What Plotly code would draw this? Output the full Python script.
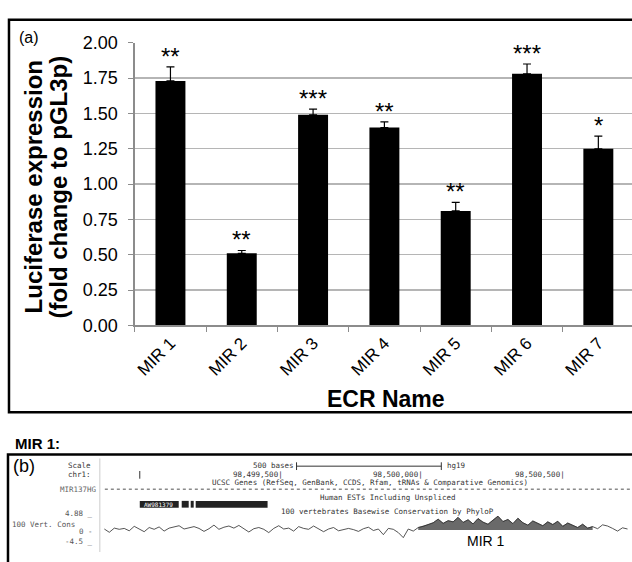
import plotly.graph_objects as go

W, H = 632, 562

def X(px):
    return px / W

def Y(py):
    return 1 - py / H

# ---------------- data: panel (a) ----------------
categories = ["MIR 1", "MIR 2", "MIR 3", "MIR 4", "MIR 5", "MIR 6", "MIR 7"]
fold_change = [1.73, 0.51, 1.49, 1.40, 0.81, 1.78, 1.25]
error_plus = [0.10, 0.02, 0.04, 0.04, 0.06, 0.07, 0.09]
significance = ["**", "**", "***", "**", "**", "***", "*"]
y_ticks = [0.0, 0.25, 0.5, 0.75, 1.0, 1.25, 1.5, 1.75, 2.0]

# ---------------- data: panel (b) PhyloP track (read by eye) ----------------
phylop = [
    0.3, -0.8, 0.6, 0.2, 0.5, -0.3, 1.2, 0.4, -0.6, 0.8,
    0.2, 1.0, -0.4, 0.6, 0.9, 1.4, 0.3, 0.7, 1.1, 0.5,
    -0.5, 0.4, 1.6, 0.2, 0.9, 1.3, 0.6, 1.5, 0.3, -0.7,
    0.4, 0.8, 0.2, -0.9, 0.5, 1.4, 0.3, 0.6, -0.4, 1.1,
    0.5, 0.2, 1.3, 0.4, -0.6, 0.3, 0.8, -0.3, 0.2, 0.5,
    0.1, -0.5, 0.4, 0.9, -0.2, 0.3, -1.6, 0.5, 0.2, -0.9,
    -2.6, 0.3, -0.4, 0.8,
    1.2, 1.8, 2.4, 3.6, 2.2, 3.1, 2.7, 4.2, 2.5, 3.4,
    2.0, 3.8, 2.6, 1.9, 3.3, 4.6, 2.8, 3.5, 2.1, 3.9,
    2.4, 1.6, 3.0, 2.2, 1.4, 2.7, 1.8, 2.9, 1.2, 2.3,
    1.5, 0.8, 1.9, 0.6,
    1.1, 0.4, 1.7, 1.3, 0.5, -0.4, 0.7, 0.3,
]
phylop_pos = list(range(len(phylop)))
mir1_start, mir1_end = 63, 99   # conserved MIR 1 stretch of the track

ARIAL = "Arial, Liberation Sans, sans-serif"
MONO = "DejaVu Sans Mono, Liberation Mono, monospace"

fig = go.Figure()

fig.add_trace(go.Bar(
    x=categories, y=fold_change, width=0.42,
    marker=dict(color="black", line=dict(width=0)),
    error_y=dict(type="data", symmetric=False, array=error_plus,
                 arrayminus=[0] * len(error_plus),
                 color="black", thickness=1.2, width=4),
    xaxis="x", yaxis="y", showlegend=False,
))

fig.add_trace(go.Scatter(
    x=phylop_pos[mir1_start:mir1_end], y=phylop[mir1_start:mir1_end], mode="lines",
    line=dict(color="#555555", width=0.6),
    fill="tozeroy", fillcolor="#6a6a6a",
    xaxis="x2", yaxis="y2", showlegend=False,
))
fig.add_trace(go.Scatter(
    x=phylop_pos, y=phylop, mode="lines",
    line=dict(color="#2a2a2a", width=0.8),
    xaxis="x2", yaxis="y2", showlegend=False,
))

plot_left, plot_right_full = 134, 634
x_hi = -0.5 + 7 * (W - plot_left) / (plot_right_full - plot_left)

annotations = []
for c, v, e, s in zip(categories, fold_change, error_plus, significance):
    annotations.append(dict(
        x=c, y=v + e, xref="x", yref="y", text=s, showarrow=False,
        yanchor="bottom", yshift=-5, font=dict(family=ARIAL, size=24, color="black"),
    ))

def txt(x, y, t, size=7.5, anchor="left", family=MONO, color="#333333", bold=False, **kw):
    if bold:
        t = "<b>" + t + "</b>"
    d = dict(x=X(x), y=Y(y), xref="paper", yref="paper", text=t, showarrow=False,
             xanchor=anchor, yanchor="middle", borderpad=0,
             font=dict(family=family, size=size, color=color))
    d.update(kw)
    annotations.append(d)

# panel (a) texts
txt(17, 28, "(a)", size=16, family=ARIAL, color="black")
txt(33, 183, "Luciferase expression", size=24,
    family=ARIAL, color="black", bold=True, anchor="center", textangle=-90)
txt(58, 183, "(fold change to pGL3p)", size=24,
    family=ARIAL, color="black", bold=True, anchor="center", textangle=-90)
txt(386, 403, "ECR Name", size=23, family=ARIAL, color="black", bold=True, anchor="center")
txt(13, 449, "MIR 1:", size=15, family=ARIAL, color="black", bold=True)

# panel (b) texts
txt(11, 473, "(b)", size=18, family=ARIAL, color="black")
txt(91, 472, "Scale", anchor="right")
txt(91, 482, "chr1:", anchor="right")
txt(97, 497, "MIR137HG", anchor="right", color="#666666")
txt(93, 522, "4.88 _", anchor="right", color="#555555")
txt(10, 533, "100 Vert. Cons", color="#555555")
txt(93, 541, "0 -", anchor="right", color="#555555")
txt(93, 551, "-4.5 _", anchor="right", color="#555555")
txt(294, 472, "500 bases", anchor="right")
txt(446, 472, "hg19")
txt(283, 482, "98,499,500|", anchor="right")
txt(424, 482, "98,500,000|", anchor="right")
txt(566, 482, "98,500,500|", anchor="right")
txt(370, 490, "UCSC Genes (RefSeq, GenBank, CCDS, Rfam, tRNAs &amp; Comparative Genomics)",
    anchor="center")
txt(387, 505, "Human ESTs Including Unspliced", anchor="center")
txt(387, 520, "100 vertebrates Basewise Conservation by PhyloP", anchor="center")
txt(158, 512.5, "AW981379", size=6, anchor="center", color="white")
txt(486, 551, "MIR 1", size=14, family=ARIAL, color="black", anchor="center")

def rect(x0, y0, x1, y1, **kw):
    return dict(type="rect", xref="paper", yref="paper",
                x0=X(x0), x1=X(x1), y0=Y(y0), y1=Y(y1), **kw)

def line(x0, y0, x1, y1, color="#333333", width=1, dash=None):
    d = dict(type="line", xref="paper", yref="paper",
             x0=X(x0), x1=X(x1), y0=Y(y0), y1=Y(y1),
             line=dict(color=color, width=width))
    if dash:
        d["line"]["dash"] = dash
    return d

shapes = [
    rect(8, 10, 650, 417, line=dict(color="black", width=2.5), fillcolor="rgba(0,0,0,0)", layer="above"),
    rect(7, 461, 650, 580, line=dict(color="black", width=2.5), fillcolor="rgba(0,0,0,0)"),
    line(99, 465, 99, 562, color="#cccccc", width=1),
    line(296, 473, 441, 473, color="#333333", width=1),
    line(296, 469, 296, 477, color="#333333", width=1),
    line(441, 469, 441, 477, color="#333333", width=1),
    line(139, 478, 139, 486, color="#333333", width=1),
    line(104, 497, 632, 497, color="#8a8a8a", width=1.5, dash="dot"),
    rect(139, 509, 178, 516, line=dict(width=0), fillcolor="#222222"),
    rect(181, 509, 188, 516, line=dict(width=0), fillcolor="#222222"),
    rect(190, 509, 193, 516, line=dict(width=0), fillcolor="#222222"),
    rect(195, 509, 267, 516, line=dict(width=0), fillcolor="#222222"),
]

fig.update_layout(
    width=W, height=H, autosize=False,
    margin=dict(l=0, r=0, t=0, b=0),
    paper_bgcolor="white", plot_bgcolor="white",
    font=dict(family=ARIAL, color="black"),
    showlegend=False,
    xaxis=dict(
        domain=[X(plot_left), 1], range=[-0.5, x_hi], type="category",
        showline=True, linecolor="#8c8c8c", linewidth=1.3,
        ticks="outside", tickson="boundaries", ticklen=5, tickcolor="#8c8c8c",
        tickangle=-45, tickfont=dict(family=ARIAL, size=17, color="black"),
        showgrid=False, zeroline=False, fixedrange=True,
    ),
    yaxis=dict(
        domain=[Y(327), Y(34)], range=[0, 2.0],
        tickvals=y_ticks, tickformat=".2f",
        showline=True, linecolor="#8c8c8c", linewidth=1.3,
        ticks="outside", ticklen=5, tickcolor="#8c8c8c",
        ticklabelstandoff=7,
        tickfont=dict(family=ARIAL, size=18, color="black"),
        showgrid=True, gridcolor="#b5b5b5", gridwidth=1.3,
        zeroline=False, fixedrange=True,
    ),
    xaxis2=dict(
        domain=[X(101), 1], range=[-0.5, len(phylop) - 0.1], anchor="y2",
        visible=False, fixedrange=True,
    ),
    yaxis2=dict(
        domain=[Y(553), Y(524)], range=[-4.5, 4.88], anchor="x2",
        visible=False, fixedrange=True,
    ),
    annotations=annotations,
    shapes=shapes,
)

fig.write_html(
    "out.html",
    config={"displayModeBar": False, "staticPlot": True},
    post_script="document.body.style.margin='0';document.body.style.overflow='hidden';",
)
